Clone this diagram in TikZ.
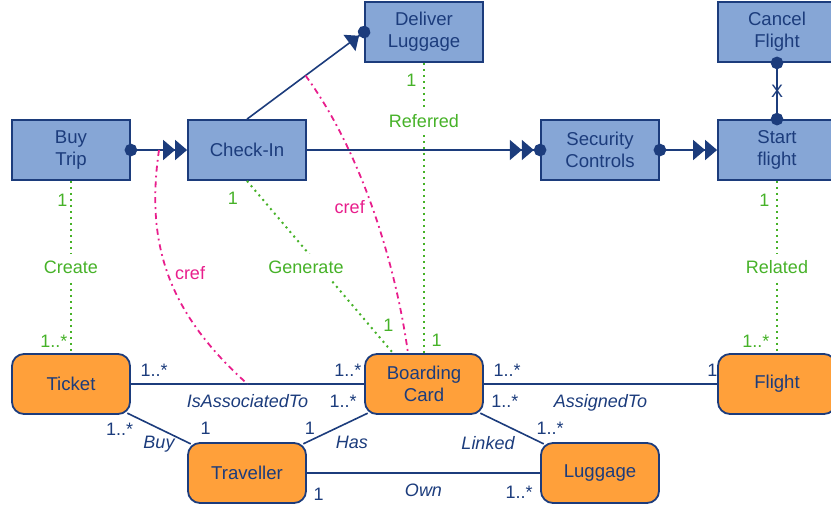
\documentclass[tikz,border=0pt]{standalone}
\usepackage{fontspec}
\setmainfont{Liberation Sans}
\usetikzlibrary{arrows.meta}

\definecolor{procfill}{RGB}{134,166,214}
\definecolor{umlblue}{RGB}{28,60,124}
\definecolor{entfill}{RGB}{255,160,58}
\definecolor{relgreen}{RGB}{70,178,40}
\definecolor{crefpink}{RGB}{232,30,140}

\tikzset{
  process/.style={draw=umlblue, fill=procfill, line width=0.9pt, minimum width=59pt, minimum height=30pt,
    align=center, text=umlblue, inner sep=2pt, font=\fontsize{9.3}{11}\selectfont},
  entity/.style={process, fill=entfill, rounded corners=6pt},
  flow/.style={draw=umlblue, line width=0.8pt},
  trigger/.style={flow, {Circle[length=6.3pt]}-{Triangle[length=6pt,width=10pt] Triangle[length=6pt,width=10pt]},
    shorten <=-3.15pt},
  enable/.style={flow, -{Triangle[length=6pt,width=10pt] Triangle[length=6pt,width=10pt] Circle[length=6.3pt]},
    shorten >=-3.15pt},
  launch/.style={flow, -{Triangle[length=6pt,width=10pt] Circle[length=6.3pt]}, shorten >=-3.15pt},
  cancelflow/.style={flow, {Circle[length=6.3pt]}-{Circle[length=6.3pt]}, shorten <=-3.15pt, shorten >=-3.15pt},
  assoc/.style={draw=umlblue, line width=0.8pt},
  corner/.style={assoc, shorten <=-2pt, shorten >=-2pt},
  mult/.style={text=umlblue, font=\fontsize{9}{10}\selectfont},
  role/.style={text=umlblue, font=\fontsize{9}{10}\selectfont\itshape},
  relation/.style={draw=relgreen, line width=1pt, dotted},
  rellabel/.style={text=relgreen, font=\fontsize{9}{10}\selectfont},
  relname/.style={rellabel, fill=white},
  cref/.style={draw=crefpink, line width=0.9pt, dash dot},
  creflabel/.style={text=crefpink, font=\fontsize{9}{10}\selectfont}
}

\begin{document}
\begin{tikzpicture}[x=0.5pt, y=-0.5pt]
\useasboundingbox (0,0) rectangle (831,510);

\node[process] (buytrip) at (71,150) {Buy\\Trip};
\node[process] (checkin) at (247,150) {Check-In};
\node[process] (deliver) at (424,32) {Deliver\\Luggage};
\node[process] (security) at (600,150) {Security\\Controls};
\node[process] (cancelflight) at (777,32) {Cancel\\Flight};
\node[process] (startflight) at (777,150) {Start\\flight};

\node[entity] (ticket) at (71,384) {Ticket};
\node[entity] (bcard) at (424,384) {Boarding\\Card};
\node[entity] (flight) at (777,384) {Flight};
\node[entity] (traveller) at (247,473) {Traveller};
\node[entity] (luggage) at (600,473) {Luggage};

\draw[trigger] (buytrip.east) -- coordinate[midway] (buycheck) (checkin.west);
\draw[enable] (checkin.east) -- (security.west);
\draw[trigger] (security.east) -- (startflight.west);
\draw[launch] (checkin.north) -- coordinate[midway] (checkdeliver) (deliver.west);
\draw[cancelflow] (cancelflight.south) -- node[mult] {X} (startflight.north);

\draw[assoc] (ticket.east) -- node[mult, pos=0.1, above] {1..*} node[role, midway, below=1.5pt] {IsAssociatedTo}
  node[mult, pos=0.93, above] {1..*} coordinate[midway] (ticketbcard) (bcard.west);
\draw[assoc] (bcard.east) -- node[mult, pos=0.1, above] {1..*} node[role, midway, below=1.5pt] {AssignedTo}
  node[mult, pos=0.98, above] {1} (flight.west);
\draw[corner] (ticket.south east) -- node[mult, pos=0.1, below left, xshift=2pt, yshift=1pt] {1..*}
  node[role, midway, below] {Buy} node[mult, pos=1, above right, xshift=3pt] {1} (traveller.north west);
\draw[corner] (traveller.north east) -- node[mult, pos=0, above, xshift=1.5pt] {1}
  node[role, midway, below right, xshift=-3.5pt] {Has} node[mult, pos=1, above left] {1..*} (bcard.south west);
\draw[corner] (bcard.south east) -- node[mult, pos=0, above right] {1..*}
  node[role, midway, below left, xshift=5pt] {Linked} node[mult, pos=1, above, xshift=5pt] {1..*} (luggage.north west);
\draw[assoc] (traveller.east) -- node[mult, pos=0.05, below=4pt] {1} node[role, midway, below=1.5pt] {Own}
  node[mult, pos=0.91, below=3pt] {1..*} (luggage.west);

\draw[relation] (buytrip.south) -- node[rellabel, pos=0.11, left, xshift=2pt] {1} node[relname, midway] {Create}
  node[rellabel, pos=0.93, left, xshift=2pt] {1..*} (ticket.north);
\draw[relation] (checkin.south) -- node[rellabel, pos=0.1, left=8pt] {1} node[relname, midway, xshift=-7pt] {Generate}
  node[rellabel, pos=0.84, right=3pt] {1} ([xshift=-15.5pt]bcard.north);
\draw[relation] (deliver.south) -- node[rellabel, pos=0.06, left] {1} node[relname, pos=0.2] {Referred}
  node[rellabel, pos=0.955, right] {1} (bcard.north);
\draw[relation] (startflight.south) -- node[rellabel, pos=0.11, left] {1} node[relname, midway] {Related}
  node[rellabel, pos=0.93, left] {1..*} (flight.north);

\draw[cref] (buycheck) .. controls (146,240) and (165,310) .. node[creflabel, pos=0.5, right] {cref} (ticketbcard);
\draw[cref] (checkdeliver) .. controls (360,150) and (395,260) .. node[creflabel, pos=0.5, left] {cref}
  ([xshift=-8pt]bcard.north);
\end{tikzpicture}
\end{document}
